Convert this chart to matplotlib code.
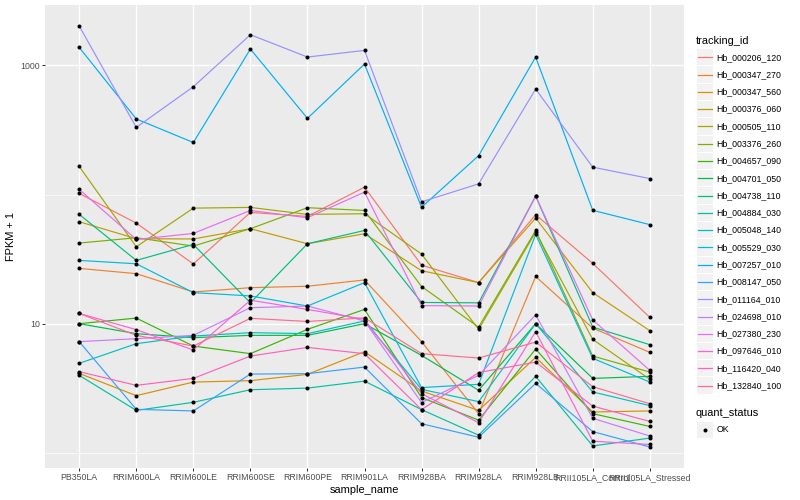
import matplotlib
matplotlib.use('Agg')
import matplotlib.pyplot as plt
from matplotlib.lines import Line2D
from matplotlib.patches import Rectangle
import numpy as np

plt.rcParams['font.family'] = ['Liberation Sans', 'DejaVu Sans']

# ---------------- data ----------------
sample_names = ["PB350LA", "RRIM600LA", "RRIM600LE", "RRIM600SE", "RRIM600PE",
                "RRIM901LA", "RRIM928BA", "RRIM928LA", "RRIM928LB",
                "RRII105LA_Control", "RRII105LA_Stressed"]

tracking_ids = ["Hb_000206_120", "Hb_000347_270", "Hb_000347_560", "Hb_000376_060",
                "Hb_000505_110", "Hb_003376_260", "Hb_004657_090", "Hb_004701_050",
                "Hb_004738_110", "Hb_004884_030", "Hb_005048_140", "Hb_005529_030",
                "Hb_007257_010", "Hb_008147_050", "Hb_011164_010", "Hb_024698_010",
                "Hb_027380_230", "Hb_097646_010", "Hb_116420_040", "Hb_132840_100"]

series_colors = ["#F8766D", "#EA8331", "#D89000", "#C09B00", "#A3A500", "#7CAE00",
                 "#39B600", "#00BB4E", "#00BF7D", "#00C1A3", "#00BFC4", "#00BAE0",
                 "#00B0F6", "#35A2FF", "#9590FF", "#C77CFF", "#E76BF3", "#FA62DB",
                 "#FF62BC", "#FF6C91"]

# FPKM + 1 per sample, one list per tracking_id
hb_000206_120 = [102.0, 60.1, 29.0, 72.7, 67.7, 114.1, 28.4, 20.8, 69.8, 29.3, 11.2]
hb_000347_270 = [26.8, 24.4, 17.6, 19.0, 19.5, 21.8, 7.26, 2.01, 23.2, 9.24, 6.00]
hb_000347_560 = [4.12, 2.77, 3.53, 3.62, 4.05, 6.07, 3.01, 2.13, 5.48, 2.07, 2.11]
hb_000376_060 = [61.6, 45.5, 45.3, 54.4, 41.6, 49.7, 25.7, 20.8, 65.7, 17.4, 8.83]
hb_000505_110 = [165.0, 39.4, 78.5, 79.5, 70.2, 71.0, 34.6, 9.03, 51.2, 7.56, 3.71]
hb_003376_260 = [42.1, 46.3, 39.9, 54.4, 79.1, 75.3, 19.4, 9.41, 52.7, 5.61, 4.22]
hb_004657_090 = [10.0, 11.05, 6.71, 5.86, 9.03, 12.9, 2.68, 1.79, 6.36, 2.01, 1.60]
hb_004701_050 = [10.0, 8.37, 7.79, 8.12, 8.12, 10.0, 5.68, 3.05, 10.0, 3.77, 3.91]
hb_004738_110 = [70.2, 30.9, 41.1, 14.5, 41.6, 52.7, 14.6, 14.5, 97.2, 9.41, 6.88]
hb_004884_030 = [3.98, 2.13, 2.46, 3.08, 3.17, 3.59, 2.16, 1.37, 3.91, 1.13, 1.30]
hb_005048_140 = [4.93, 7.00, 8.02, 8.52, 8.37, 10.5, 3.10, 2.49, 10.0, 2.96, 2.32]
hb_005529_030 = [30.9, 29.1, 17.4, 16.4, 13.7, 20.8, 3.20, 3.39, 49.1, 5.39, 3.53]
hb_007257_010 = [1378, 385, 253, 1339, 389, 1025, 79.7, 200, 1161, 75.5, 58.5]
hb_008147_050 = [7.26, 2.17, 2.11, 4.07, 4.10, 4.61, 1.68, 1.32, 3.45, 1.46, 1.11]
hb_011164_010 = [2018, 331, 684, 1729, 1161, 1307, 87.8, 121, 656, 163, 133]
hb_024698_010 = [7.26, 7.65, 8.12, 13.3, 13.7, 10.5, 2.45, 3.98, 11.7, 1.85, 1.35]
hb_027380_230 = [109.5, 44.9, 50.0, 75.3, 66.1, 104.4, 13.8, 13.7, 97.2, 10.7, 4.35]
hb_097646_010 = [12.0, 8.99, 6.25, 15.2, 12.9, 10.8, 2.87, 1.71, 8.67, 1.23, 1.16]
hb_116420_040 = [4.25, 3.33, 3.77, 5.61, 6.55, 5.86, 2.16, 4.18, 5.04, 2.30, 1.75]
hb_132840_100 = [12.0, 8.12, 6.71, 11.0, 10.4, 11.1, 5.86, 5.42, 7.20, 3.25, 2.40]

series = [hb_000206_120, hb_000347_270, hb_000347_560, hb_000376_060, hb_000505_110,
          hb_003376_260, hb_004657_090, hb_004701_050, hb_004738_110, hb_004884_030,
          hb_005048_140, hb_005529_030, hb_007257_010, hb_008147_050, hb_011164_010,
          hb_024698_010, hb_027380_230, hb_097646_010, hb_116420_040, hb_132840_100]

quant_status = ["OK"]

# ---------------- figure ----------------
W, H = 800, 500
PT = 0.72  # px -> pt at 100 dpi

def fx(px):
    return px / W

def fy(py):
    return 1 - py / H

fig = plt.figure(figsize=(8, 5), dpi=100)
fig.patch.set_facecolor('white')
ax = fig.add_axes([fx(45), fy(468), (684 - 45) / W, (468 - 5) / H])
ax.set_facecolor('#EBEBEB')
for s in ax.spines.values():
    s.set_visible(False)

x = np.arange(1, len(sample_names) + 1)
for vals, col in zip(series, series_colors):
    ax.plot(x, vals, color=col, lw=0.85, zorder=2, solid_capstyle='butt')
for vals in series:
    ax.plot(x, vals, 'o', color='black', ms=2.9, mew=0, zorder=3)

ax.set_yscale('log')
allv = np.concatenate([np.asarray(v, float) for v in series])
lo, hi = np.log10(allv.min()), np.log10(allv.max())
pad = 0.05 * (hi - lo)
ax.set_ylim(10 ** (lo - pad), 10 ** (hi + pad))
ax.set_xlim(0.4, len(sample_names) + 0.6)

ax.set_yticks([10, 1000])
ax.set_yticklabels(["10", "1000"])
ax.set_yticks([1, 100], minor=True)
ax.set_yticklabels([], minor=True)
ax.set_xticks(x)
ax.set_xticklabels(sample_names)

ax.grid(which='major', color='white', lw=1.0)
ax.grid(which='minor', axis='y', color='white', lw=0.5)
ax.set_axisbelow(True)

ax.tick_params(which='major', length=2.75 * PT, width=0.75, color='#333333',
               labelsize=8.8 * PT, labelcolor='#4D4D4D', pad=2.2 * PT)
ax.tick_params(which='minor', length=0)

ax.set_xlabel('sample_name', fontsize=11 * PT, color='black', labelpad=2.5)
ax.set_ylabel('FPKM + 1', fontsize=11 * PT, color='black', labelpad=3.5)

# ---------------- legend (manual, ggplot style) ----------------
key_x0, key_w = 696.5, 17.28
step = 17.28
first_c = 57.3

def key_box(cy):
    fig.add_artist(Rectangle((fx(key_x0), fy(cy + key_w / 2 - 0.5)),
                             (key_w - 0.8) / W, (key_w - 1) / H,
                             transform=fig.transFigure, facecolor='#F2F2F2',
                             edgecolor='none', zorder=1))

fig.text(fx(696), fy(44), 'tracking_id', fontsize=11 * PT, ha='left', va='baseline')
for i, (tid, col) in enumerate(zip(tracking_ids, series_colors)):
    cy = first_c + step * i
    key_box(cy)
    fig.add_artist(Line2D([fx(key_x0 + 1.7), fx(key_x0 + key_w - 2.2)], [fy(cy), fy(cy)],
                          transform=fig.transFigure, color=col, lw=0.9, zorder=3))
    fig.text(fx(716.5), fy(cy), tid, fontsize=8.8 * PT, ha='left', va='center')

fig.text(fx(696), fy(416), 'quant_status', fontsize=11 * PT, ha='left', va='baseline')
for j, qs in enumerate(quant_status):
    cy = 429.8 + step * j
    key_box(cy)
    fig.add_artist(Line2D([fx(key_x0 + key_w / 2 - 0.4)], [fy(cy)], marker='o', ms=2.9,
                          mew=0, color='black', linestyle='none',
                          transform=fig.transFigure, zorder=3))
    fig.text(fx(716.5), fy(cy), qs, fontsize=8.8 * PT, ha='left', va='center')

fig.savefig('out.png', dpi=100, facecolor='white')
